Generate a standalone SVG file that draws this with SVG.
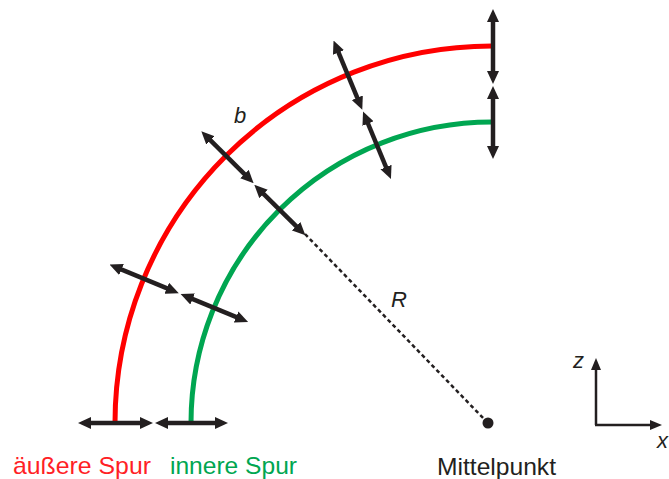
<svg xmlns="http://www.w3.org/2000/svg" width="669" height="479" viewBox="0 0 669 479">
<style>
.track{fill:none;stroke-width:5}
.red{stroke:#ff0000}
.green{stroke:#00a651}
.arr{stroke:#231f20;stroke-width:4.5;fill:none;marker-start:url(#ah);marker-end:url(#ah)}
.ax{stroke:#231f20;stroke-width:2.5;fill:none;marker-end:url(#axh)}
.lbl{font-family:"Liberation Sans",Arial,sans-serif;font-size:24px}
.it{font-style:italic;fill:#231f20;font-size:22px}
</style>
<defs>
<marker id="ah" viewBox="0 0 13 12" markerWidth="13" markerHeight="12" refX="5" refY="6" orient="auto-start-reverse" markerUnits="userSpaceOnUse">
<path d="M0,0 L13,6 L0,12 z" fill="#231f20"/>
</marker>
<marker id="axh" viewBox="0 0 12 10" markerWidth="12" markerHeight="10" refX="4" refY="5" orient="auto" markerUnits="userSpaceOnUse">
<path d="M0,0 L12,5 L0,10 z" fill="#231f20"/>
</marker>
</defs>
<g id="outer-track">
<path class="track red" d="M115,423 A377,377 0 0 1 493,46"/>
</g>
<g id="inner-track">
<path class="track green" d="M191,423 A301,301 0 0 1 493,122"/>
</g>
<g id="center">
<circle cx="488" cy="423" r="5.5" fill="#231f20"/>
</g>
<g id="connectors">
<line x1="305" y1="234" x2="486" y2="421" stroke="#231f20" stroke-width="2.5" stroke-dasharray="4,3"/>
<line class="arr" x1="86" y1="423" x2="145" y2="423"/>
<line class="arr" x1="163" y1="423" x2="220" y2="423"/>
<line class="arr" x1="493" y1="17" x2="493" y2="76"/>
<line class="arr" x1="493" y1="94" x2="493" y2="151"/>
<line class="arr" x1="116.9" y1="267.6" x2="171.4" y2="290.2"/>
<line class="arr" x1="188" y1="297.1" x2="240.7" y2="318.9"/>
<line class="arr" x1="207" y1="136.9" x2="248" y2="177.6"/>
<line class="arr" x1="260" y1="190.4" x2="299.7" y2="229.7"/>
<line class="arr" x1="336.6" y1="47.9" x2="359.2" y2="102.4"/>
<line class="arr" x1="366.1" y1="119" x2="387.9" y2="171.7"/>
</g>
<g id="axes">
<line class="ax" x1="596" y1="425" x2="596" y2="366"/>
<line class="ax" x1="595" y1="425" x2="654" y2="425"/>
<text class="lbl it" x="573" y="368">z</text>
<text class="lbl it" x="657" y="448">x</text>
</g>
<g id="labels">
<text class="lbl it" x="234" y="123">b</text>
<text class="lbl it" x="391" y="307">R</text>
<text class="lbl" x="13" y="474" fill="#ff1f26" textLength="138" lengthAdjust="spacingAndGlyphs">äußere Spur</text>
<text class="lbl" x="170" y="474" fill="#00a651" textLength="127" lengthAdjust="spacingAndGlyphs">innere Spur</text>
<text class="lbl" x="437" y="475" fill="#231f20" textLength="119" lengthAdjust="spacingAndGlyphs">Mittelpunkt</text>
</g>
</svg>
